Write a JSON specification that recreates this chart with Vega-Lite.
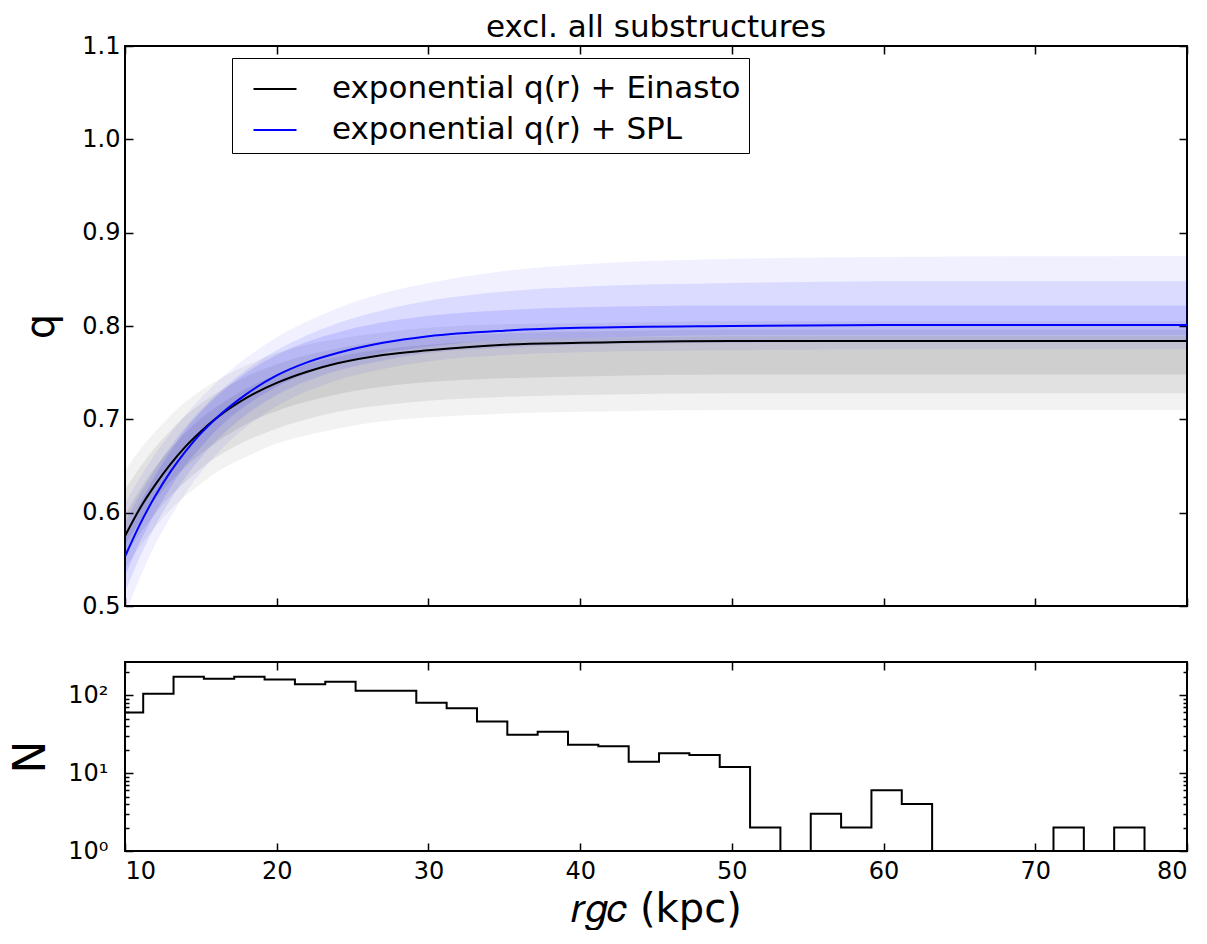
{
  "$schema": "https://vega.github.io/schema/vega-lite/v6.json",
  "padding": {"left": 8, "top": 11, "right": 0, "bottom": 0},
  "bounds": "flush",
  "spacing": 56,
  "config": {
    "font": "DejaVu Sans",
    "view": {"stroke": "black", "strokeWidth": 2},
    "axis": {"domain": false, "grid": false, "tickColor": "black", "tickWidth": 1.5, "labelColor": "black", "titleColor": "black", "labelFont": "DejaVu Sans", "titleFont": "DejaVu Sans", "titleFontWeight": "normal", "labelFontSize": 24}
  },
  "datasets": {
    "bands": [
      {"r":10,"model":"Einasto","level":"outer","lo":0.540,"hi":0.645},{"r":11,"model":"Einasto","level":"outer","lo":0.564,"hi":0.668},{"r":12,"model":"Einasto","level":"outer","lo":0.585,"hi":0.687},{"r":13,"model":"Einasto","level":"outer","lo":0.603,"hi":0.704},{"r":14,"model":"Einasto","level":"outer","lo":0.618,"hi":0.719},{"r":15,"model":"Einasto","level":"outer","lo":0.631,"hi":0.731},{"r":16,"model":"Einasto","level":"outer","lo":0.643,"hi":0.741},{"r":18,"model":"Einasto","level":"outer","lo":0.660,"hi":0.758},{"r":20,"model":"Einasto","level":"outer","lo":0.674,"hi":0.771},{"r":22,"model":"Einasto","level":"outer","lo":0.683,"hi":0.780},{"r":24,"model":"Einasto","level":"outer","lo":0.690,"hi":0.786},{"r":27,"model":"Einasto","level":"outer","lo":0.698,"hi":0.793},{"r":30,"model":"Einasto","level":"outer","lo":0.702,"hi":0.798},{"r":35,"model":"Einasto","level":"outer","lo":0.706,"hi":0.802},{"r":40,"model":"Einasto","level":"outer","lo":0.708,"hi":0.803},{"r":50,"model":"Einasto","level":"outer","lo":0.710,"hi":0.805},{"r":60,"model":"Einasto","level":"outer","lo":0.710,"hi":0.805},{"r":80,"model":"Einasto","level":"outer","lo":0.710,"hi":0.805},
      {"r":10,"model":"Einasto","level":"mid","lo":0.553,"hi":0.625},{"r":11,"model":"Einasto","level":"mid","lo":0.578,"hi":0.649},{"r":12,"model":"Einasto","level":"mid","lo":0.599,"hi":0.670},{"r":13,"model":"Einasto","level":"mid","lo":0.618,"hi":0.688},{"r":14,"model":"Einasto","level":"mid","lo":0.633,"hi":0.704},{"r":15,"model":"Einasto","level":"mid","lo":0.647,"hi":0.717},{"r":16,"model":"Einasto","level":"mid","lo":0.659,"hi":0.728},{"r":18,"model":"Einasto","level":"mid","lo":0.677,"hi":0.746},{"r":20,"model":"Einasto","level":"mid","lo":0.690,"hi":0.759},{"r":22,"model":"Einasto","level":"mid","lo":0.700,"hi":0.769},{"r":24,"model":"Einasto","level":"mid","lo":0.708,"hi":0.776},{"r":27,"model":"Einasto","level":"mid","lo":0.715,"hi":0.784},{"r":30,"model":"Einasto","level":"mid","lo":0.720,"hi":0.788},{"r":35,"model":"Einasto","level":"mid","lo":0.724,"hi":0.792},{"r":40,"model":"Einasto","level":"mid","lo":0.726,"hi":0.794},{"r":50,"model":"Einasto","level":"mid","lo":0.728,"hi":0.796},{"r":60,"model":"Einasto","level":"mid","lo":0.728,"hi":0.796},{"r":80,"model":"Einasto","level":"mid","lo":0.728,"hi":0.796},
      {"r":10,"model":"Einasto","level":"inner","lo":0.565,"hi":0.598},{"r":11,"model":"Einasto","level":"inner","lo":0.591,"hi":0.625},{"r":12,"model":"Einasto","level":"inner","lo":0.614,"hi":0.649},{"r":13,"model":"Einasto","level":"inner","lo":0.633,"hi":0.669},{"r":14,"model":"Einasto","level":"inner","lo":0.649,"hi":0.686},{"r":15,"model":"Einasto","level":"inner","lo":0.663,"hi":0.701},{"r":16,"model":"Einasto","level":"inner","lo":0.675,"hi":0.713},{"r":18,"model":"Einasto","level":"inner","lo":0.695,"hi":0.733},{"r":20,"model":"Einasto","level":"inner","lo":0.709,"hi":0.748},{"r":22,"model":"Einasto","level":"inner","lo":0.719,"hi":0.759},{"r":24,"model":"Einasto","level":"inner","lo":0.727,"hi":0.767},{"r":27,"model":"Einasto","level":"inner","lo":0.735,"hi":0.775},{"r":30,"model":"Einasto","level":"inner","lo":0.740,"hi":0.780},{"r":35,"model":"Einasto","level":"inner","lo":0.744,"hi":0.785},{"r":40,"model":"Einasto","level":"inner","lo":0.746,"hi":0.787},{"r":50,"model":"Einasto","level":"inner","lo":0.748,"hi":0.789},{"r":60,"model":"Einasto","level":"inner","lo":0.748,"hi":0.789},{"r":80,"model":"Einasto","level":"inner","lo":0.748,"hi":0.789},
      {"r":10,"model":"SPL","level":"outer","lo":0.490,"hi":0.610},{"r":11,"model":"SPL","level":"outer","lo":0.531,"hi":0.638},{"r":12,"model":"SPL","level":"outer","lo":0.566,"hi":0.663},{"r":13,"model":"SPL","level":"outer","lo":0.595,"hi":0.685},{"r":14,"model":"SPL","level":"outer","lo":0.621,"hi":0.705},{"r":15,"model":"SPL","level":"outer","lo":0.643,"hi":0.723},{"r":16,"model":"SPL","level":"outer","lo":0.662,"hi":0.739},{"r":18,"model":"SPL","level":"outer","lo":0.692,"hi":0.766},{"r":20,"model":"SPL","level":"outer","lo":0.714,"hi":0.788},{"r":22,"model":"SPL","level":"outer","lo":0.730,"hi":0.805},{"r":24,"model":"SPL","level":"outer","lo":0.742,"hi":0.819},{"r":27,"model":"SPL","level":"outer","lo":0.754,"hi":0.835},{"r":30,"model":"SPL","level":"outer","lo":0.762,"hi":0.846},{"r":35,"model":"SPL","level":"outer","lo":0.769,"hi":0.859},{"r":40,"model":"SPL","level":"outer","lo":0.772,"hi":0.866},{"r":50,"model":"SPL","level":"outer","lo":0.774,"hi":0.872},{"r":60,"model":"SPL","level":"outer","lo":0.775,"hi":0.874},{"r":80,"model":"SPL","level":"outer","lo":0.775,"hi":0.875},
      {"r":10,"model":"SPL","level":"mid","lo":0.515,"hi":0.590},{"r":11,"model":"SPL","level":"mid","lo":0.553,"hi":0.620},{"r":12,"model":"SPL","level":"mid","lo":0.586,"hi":0.647},{"r":13,"model":"SPL","level":"mid","lo":0.614,"hi":0.671},{"r":14,"model":"SPL","level":"mid","lo":0.638,"hi":0.692},{"r":15,"model":"SPL","level":"mid","lo":0.659,"hi":0.710},{"r":16,"model":"SPL","level":"mid","lo":0.677,"hi":0.726},{"r":18,"model":"SPL","level":"mid","lo":0.705,"hi":0.753},{"r":20,"model":"SPL","level":"mid","lo":0.726,"hi":0.774},{"r":22,"model":"SPL","level":"mid","lo":0.741,"hi":0.790},{"r":24,"model":"SPL","level":"mid","lo":0.752,"hi":0.803},{"r":27,"model":"SPL","level":"mid","lo":0.763,"hi":0.817},{"r":30,"model":"SPL","level":"mid","lo":0.771,"hi":0.827},{"r":35,"model":"SPL","level":"mid","lo":0.777,"hi":0.837},{"r":40,"model":"SPL","level":"mid","lo":0.780,"hi":0.842},{"r":50,"model":"SPL","level":"mid","lo":0.782,"hi":0.846},{"r":60,"model":"SPL","level":"mid","lo":0.783,"hi":0.848},{"r":80,"model":"SPL","level":"mid","lo":0.783,"hi":0.848},
      {"r":10,"model":"SPL","level":"inner","lo":0.532,"hi":0.575},{"r":11,"model":"SPL","level":"inner","lo":0.569,"hi":0.610},{"r":12,"model":"SPL","level":"inner","lo":0.600,"hi":0.640},{"r":13,"model":"SPL","level":"inner","lo":0.627,"hi":0.666},{"r":14,"model":"SPL","level":"inner","lo":0.651,"hi":0.689},{"r":15,"model":"SPL","level":"inner","lo":0.670,"hi":0.708},{"r":16,"model":"SPL","level":"inner","lo":0.688,"hi":0.724},{"r":18,"model":"SPL","level":"inner","lo":0.715,"hi":0.750},{"r":20,"model":"SPL","level":"inner","lo":0.735,"hi":0.769},{"r":22,"model":"SPL","level":"inner","lo":0.749,"hi":0.783},{"r":24,"model":"SPL","level":"inner","lo":0.760,"hi":0.793},{"r":27,"model":"SPL","level":"inner","lo":0.771,"hi":0.804},{"r":30,"model":"SPL","level":"inner","lo":0.778,"hi":0.811},{"r":35,"model":"SPL","level":"inner","lo":0.785,"hi":0.817},{"r":40,"model":"SPL","level":"inner","lo":0.787,"hi":0.820},{"r":50,"model":"SPL","level":"inner","lo":0.790,"hi":0.822},{"r":60,"model":"SPL","level":"inner","lo":0.790,"hi":0.822},{"r":80,"model":"SPL","level":"inner","lo":0.790,"hi":0.822}
    ],
    "lines": [
      {"r":10,"model":"exponential q(r) + Einasto","q":0.575},{"r":11,"model":"exponential q(r) + Einasto","q":0.605},{"r":12,"model":"exponential q(r) + Einasto","q":0.630},{"r":13,"model":"exponential q(r) + Einasto","q":0.652},{"r":14,"model":"exponential q(r) + Einasto","q":0.671},{"r":15,"model":"exponential q(r) + Einasto","q":0.687},{"r":16,"model":"exponential q(r) + Einasto","q":0.701},{"r":18,"model":"exponential q(r) + Einasto","q":0.723},{"r":20,"model":"exponential q(r) + Einasto","q":0.739},{"r":22,"model":"exponential q(r) + Einasto","q":0.751},{"r":24,"model":"exponential q(r) + Einasto","q":0.760},{"r":27,"model":"exponential q(r) + Einasto","q":0.769},{"r":30,"model":"exponential q(r) + Einasto","q":0.774},{"r":35,"model":"exponential q(r) + Einasto","q":0.780},{"r":40,"model":"exponential q(r) + Einasto","q":0.782},{"r":50,"model":"exponential q(r) + Einasto","q":0.784},{"r":60,"model":"exponential q(r) + Einasto","q":0.784},{"r":80,"model":"exponential q(r) + Einasto","q":0.784},
      {"r":10,"model":"exponential q(r) + SPL","q":0.553},{"r":11,"model":"exponential q(r) + SPL","q":0.588},{"r":12,"model":"exponential q(r) + SPL","q":0.618},{"r":13,"model":"exponential q(r) + SPL","q":0.644},{"r":14,"model":"exponential q(r) + SPL","q":0.666},{"r":15,"model":"exponential q(r) + SPL","q":0.685},{"r":16,"model":"exponential q(r) + SPL","q":0.701},{"r":18,"model":"exponential q(r) + SPL","q":0.727},{"r":20,"model":"exponential q(r) + SPL","q":0.747},{"r":22,"model":"exponential q(r) + SPL","q":0.761},{"r":24,"model":"exponential q(r) + SPL","q":0.771},{"r":27,"model":"exponential q(r) + SPL","q":0.782},{"r":30,"model":"exponential q(r) + SPL","q":0.789},{"r":35,"model":"exponential q(r) + SPL","q":0.795},{"r":40,"model":"exponential q(r) + SPL","q":0.798},{"r":50,"model":"exponential q(r) + SPL","q":0.800},{"r":60,"model":"exponential q(r) + SPL","q":0.801},{"r":80,"model":"exponential q(r) + SPL","q":0.801}
    ],
    "hist": [
      {"edge":9.2,"N":60},{"edge":11.2,"N":104},{"edge":13.2,"N":172},{"edge":15.2,"N":162},{"edge":17.2,"N":172},{"edge":19.2,"N":159},{"edge":21.2,"N":138},{"edge":23.2,"N":148},{"edge":25.2,"N":114},{"edge":27.2,"N":114},{"edge":29.2,"N":80},{"edge":31.2,"N":68},{"edge":33.2,"N":46},{"edge":35.2,"N":31},{"edge":37.2,"N":34},{"edge":39.2,"N":23},{"edge":41.2,"N":22},{"edge":43.2,"N":14},{"edge":45.2,"N":18},{"edge":47.2,"N":17},{"edge":49.2,"N":12},{"edge":51.2,"N":2},{"edge":53.2,"N":0},{"edge":55.2,"N":3},{"edge":57.2,"N":2},{"edge":59.2,"N":6},{"edge":61.2,"N":4},{"edge":63.2,"N":0},{"edge":65.2,"N":0},{"edge":67.2,"N":0},{"edge":69.2,"N":0},{"edge":71.2,"N":2},{"edge":73.2,"N":0},{"edge":75.2,"N":2},{"edge":77.2,"N":0},{"edge":79.2,"N":0}
    ]
  },
  "vconcat": [
    {
      "width": 1062,
      "height": 560,
      "title": {"text": "excl. all substructures", "fontSize": 31, "fontWeight": "normal", "font": "DejaVu Sans", "anchor": "middle", "offset": -10, "color": "black"},
      "resolve": {"axis": {"x": "independent", "y": "independent"}},
      "layer": [
        {
          "data": {"name": "bands"},
          "transform": [{"filter": "datum.model === 'Einasto'"}],
          "mark": {"type": "area", "interpolate": "monotone", "color": "black", "clip": true},
          "encoding": {
            "x": {"field": "r", "type": "quantitative", "scale": {"domain": [10, 80], "nice": false}, "axis": {"orient": "bottom", "values": [10,20,30,40,50,60,70,80], "labels": false, "tickSize": -8, "title": null}},
            "y": {"field": "lo", "type": "quantitative", "scale": {"domain": [0.5, 1.1], "nice": false, "zero": false}, "axis": {"orient": "left", "values": [0.5,0.6,0.7,0.8,0.9,1.0,1.1], "format": ".1f", "tickSize": -8, "labelPadding": 13, "title": "q", "titleFontSize": 40, "titlePadding": 20}},
            "y2": {"field": "hi"},
            "opacity": {"field": "level", "type": "nominal", "scale": {"domain": ["outer", "mid", "inner"], "range": [0.05, 0.08, 0.12]}, "legend": null},
            "detail": {"field": "level"}
          }
        },
        {
          "data": {"name": "bands"},
          "transform": [{"filter": "datum.model === 'SPL'"}],
          "mark": {"type": "area", "interpolate": "monotone", "color": "blue", "clip": true},
          "encoding": {
            "x": {"field": "r", "type": "quantitative", "axis": {"orient": "top", "values": [10,20,30,40,50,60,70,80], "labels": false, "tickSize": -8, "title": null}},
            "y": {"field": "lo", "type": "quantitative", "axis": {"orient": "right", "values": [0.5,0.6,0.7,0.8,0.9,1.0,1.1], "labels": false, "tickSize": -8, "title": null}},
            "y2": {"field": "hi"},
            "fillOpacity": {"field": "level", "type": "nominal", "scale": {"domain": ["outer", "mid", "inner"], "range": [0.06, 0.11, 0.17]}, "legend": null},
            "detail": {"field": "level"}
          }
        },
        {
          "data": {"name": "lines"},
          "mark": {"type": "line", "interpolate": "monotone", "strokeWidth": 2, "clip": true},
          "encoding": {
            "x": {"field": "r", "type": "quantitative", "axis": null},
            "y": {"field": "q", "type": "quantitative", "axis": null},
            "color": {"field": "model", "type": "nominal", "scale": {"domain": ["exponential q(r) + Einasto", "exponential q(r) + SPL"], "range": ["black", "blue"]},
              "legend": {"orient": "none", "legendX": 107, "legendY": 12, "title": null, "symbolType": "stroke", "symbolSize": 1850, "symbolStrokeWidth": 2, "labelFontSize": 31, "labelFont": "DejaVu Sans", "labelColor": "black", "labelOffset": 34, "labelLimit": 0, "padding": 8, "symbolOffset": 12, "strokeColor": "black", "fillColor": "white", "rowPadding": 3}}
          }
        }
      ]
    },
    {
      "width": 1062,
      "height": 189,
      "data": {"name": "hist"},
      "resolve": {"axis": {"x": "independent", "y": "independent"}},
      "layer": [
        {
          "mark": {"type": "line", "interpolate": "step-after", "color": "black", "strokeWidth": 2, "clip": true},
          "encoding": {
            "x": {"field": "edge", "type": "quantitative", "scale": {"domain": [10, 80], "nice": false}, "axis": {"orient": "bottom", "values": [10,20,30,40,50,60,70,80], "tickSize": -8, "labelPadding": 16, "title": "𝑟𝑔𝑐 (kpc)", "titleFontSize": 40, "titlePadding": 6}},
            "y": {"field": "N", "type": "quantitative", "scale": {"type": "log", "domain": [1, 266], "nice": false, "clamp": true}, "axis": {"orient": "left", "values": [1,2,3,4,5,6,7,8,9,10,20,30,40,50,60,70,80,90,100,200], "labelExpr": "datum.value === 1 ? '10⁰' : datum.value === 10 ? '10¹' : datum.value === 100 ? '10²' : ''", "tickSize": {"condition": {"test": "datum.value === 1 || datum.value === 10 || datum.value === 100", "value": -8}, "value": -4}, "labelPadding": 25, "title": "N", "titleFontSize": 44, "titlePadding": 14}}
          }
        },
        {
          "mark": {"type": "line", "interpolate": "step-after", "color": "black", "strokeWidth": 2, "opacity": 0, "clip": true},
          "encoding": {
            "x": {"field": "edge", "type": "quantitative", "axis": {"orient": "top", "values": [10,20,30,40,50,60,70,80], "labels": false, "tickSize": -8, "title": null}},
            "y": {"field": "N", "type": "quantitative", "axis": {"orient": "right", "values": [1,2,3,4,5,6,7,8,9,10,20,30,40,50,60,70,80,90,100,200], "labels": false, "tickSize": {"condition": {"test": "datum.value === 1 || datum.value === 10 || datum.value === 100", "value": -8}, "value": -4}, "title": null}}
          }
        }
      ]
    }
  ]
}
